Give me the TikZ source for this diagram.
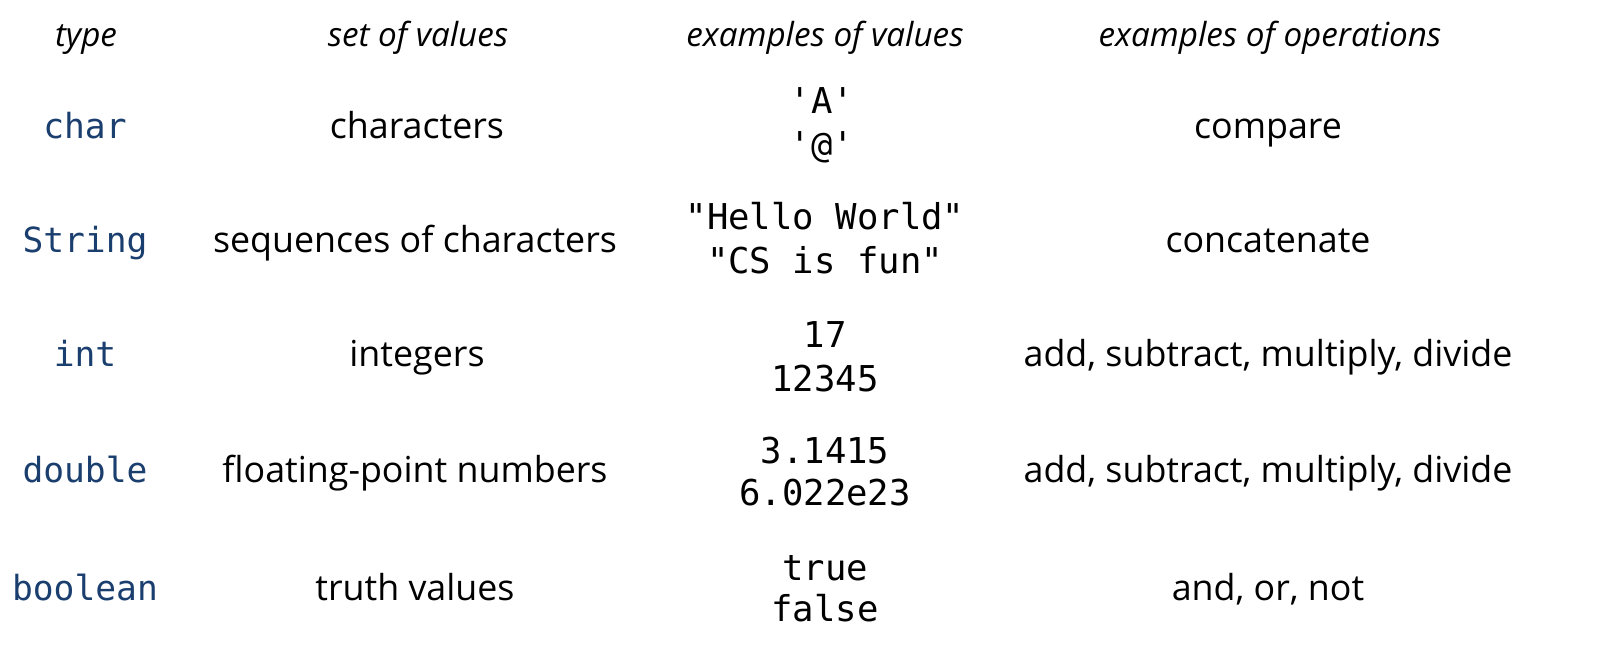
\documentclass[tikz,border=0pt]{standalone}
\usepackage{fontspec}
\setmainfont{Open Sans}
\newfontfamily\codefont{DejaVu Sans Mono}
\definecolor{typeblue}{HTML}{1A3E6E}
\begin{document}
\begin{tikzpicture}[x=0.5pt,y=-0.5pt,
  hdr/.style={inner sep=0pt,anchor=base,font=\fontsize{16.6}{18}\selectfont\itshape},
  tname/.style={inner sep=0pt,anchor=base,text=typeblue,font=\fontsize{17.3}{20}\selectfont\codefont},
  body/.style={inner sep=0pt,anchor=base,font=\fontsize{17.9}{20}\selectfont},
  val/.style={inner sep=0pt,anchor=base,align=center,font=\fontsize{17.8}{22}\selectfont\codefont}]
\useasboundingbox (0,0) rectangle (1622,660);
% headers
\node[hdr] (h1) at (86,46) {type};
\node[hdr] (h2) at (418,46) {set of values};
\node[hdr] (h3) at (825,46) {examples of values};
\node[hdr] (h4) at (1270,46) {examples of operations};
% char
\node[tname] (t1) at (85,138) {char};
\node[body] (s1) at (417,138) {characters};
\node[val] (v1a) at (822,113) {'A'};
\node[val] (v1b) at (822,157) {'@'};
\node[body] (o1) at (1268,138) {compare};
% String
\node[tname] (t2) at (85,252) {String};
\node[body] (s2) at (415,252) {sequences of characters};
\node[val] (v2a) at (825,229) {"Hello World"};
\node[val] (v2b) at (825,273) {"CS is fun"};
\node[body] (o2) at (1268,252) {concatenate};
% int
\node[tname] (t3) at (85,366) {int};
\node[body] (s3) at (417,366) {integers};
\node[val] (v3a) at (825,347) {17};
\node[val] (v3b) at (825,391) {12345};
\node[body] (o3) at (1268,366) {add, subtract, multiply, divide};
% double
\node[tname] (t4) at (85,482) {double};
\node[body] (s4) at (415,482) {floating-point numbers};
\node[val] (v4a) at (825,463) {3.1415};
\node[val] (v4b) at (825,505) {6.022e23};
\node[body] (o4) at (1268,482) {add, subtract, multiply, divide};
% boolean
\node[tname] (t5) at (85,600) {boolean};
\node[body] (s5) at (415,600) {truth values};
\node[val] (v5a) at (825,580) {true};
\node[val] (v5b) at (825,621) {false};
\node[body] (o5) at (1268,600) {and, or, not};
\end{tikzpicture}
\end{document}
